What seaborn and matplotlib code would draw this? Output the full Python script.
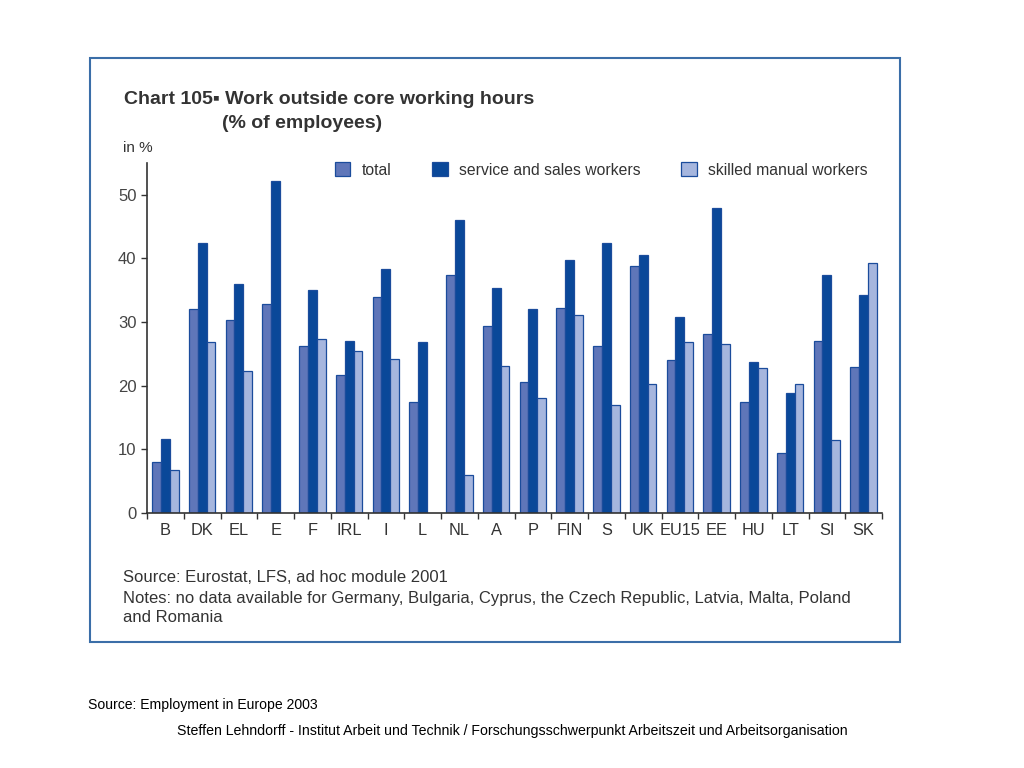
#!/usr/bin/env python3

# Chart 105: work outside core working hours, grouped bars per country

import matplotlib
matplotlib.use("Agg")
import matplotlib.pyplot as plt
import matplotlib.patches as mpatches
import seaborn as sns
import pandas as pd
import numpy as np

countries = ["B", "DK", "EL", "E", "F", "IRL", "I", "L", "NL", "A",
             "P", "FIN", "S", "UK", "EU15", "EE", "HU", "LT", "SI", "SK"]
total = [8.0, 32.0, 30.3, 32.9, 26.2, 21.7, 34.0, 17.4, 37.4, 29.4,
         20.6, 32.2, 26.2, 38.8, 24.0, 28.2, 17.4, 9.4, 27.0, 22.9]
service = [11.7, 42.5, 36.0, 52.1, 35.1, 27.1, 38.3, 26.8, 46.1, 35.3,
           32.0, 39.7, 42.5, 40.5, 30.8, 47.9, 23.7, 18.9, 37.4, 34.3]
skilled = [6.8, 26.8, 22.3, np.nan, 27.4, 25.4, 24.2, np.nan, 6.0, 23.1,
           18.0, 31.1, 16.9, 20.2, 26.8, 26.5, 22.8, 20.2, 11.4, 39.3]
groups = ["total", "service and sales workers", "skilled manual workers"]
colors = ["#5f76b9", "#0a4899", "#a6b6de"]

plt.rcParams["font.family"] = ["Liberation Sans", "DejaVu Sans"]

rows = []
for i, c in enumerate(countries):
    for g, vals in zip(groups, [total, service, skilled]):
        if not np.isnan(vals[i]):
            rows.append({"Country": c, "Group": g, "Value": vals[i]})
df = pd.DataFrame(rows)

fig = plt.figure(figsize=(10.24, 7.68), dpi=100)
ax = fig.add_axes([147 / 1024, 1 - 513 / 768, 735 / 1024, 350 / 768])

sns.barplot(data=df, x="Country", y="Value", hue="Group", order=countries,
            hue_order=groups, palette=colors, width=0.72, saturation=1,
            edgecolor="#1b4c9c", linewidth=0.9, errorbar=None, ax=ax)

ax.set_xlim(-0.5, len(countries) - 0.5)
ax.set_ylim(0, 55)
ax.set_yticks(range(0, 51, 10))
ax.set_xlabel("")
ax.set_ylabel("")
ax.tick_params(axis="x", length=0, labelsize=11.8, colors="#333333", pad=7)
ax.set_xticks(np.arange(-0.5, len(countries)), minor=True)
ax.tick_params(axis="x", which="minor", length=4, width=1, color="#333333")
ax.tick_params(axis="y", length=4, width=1, labelsize=12, colors="#444444",
               color="#333333")
for s in ["top", "right"]:
    ax.spines[s].set_visible(False)
for s in ["left", "bottom"]:
    ax.spines[s].set_color("#333333")
    ax.spines[s].set_linewidth(1.2)

handles, labels = ax.get_legend_handles_labels()
ax.legend(handles, labels, loc="center", bbox_to_anchor=(601 / 1024, 1 - 170 / 768),
          bbox_transform=fig.transFigure, ncol=3, frameon=False, fontsize=11.3,
          handlelength=1.0, handleheight=1.0, handletextpad=0.7, columnspacing=2.6,
          labelcolor="#333333")

# frame around chart
fig.patches.append(mpatches.Rectangle((90 / 1024, 1 - 642 / 768), 810 / 1024, 584 / 768,
                                      transform=fig.transFigure, fill=False,
                                      edgecolor="#3b6ea8", linewidth=1.5))

fig.text(124 / 1024, 1 - 99 / 768, "Chart 105\u25aa Work outside core working hours",
         fontsize=14, fontweight="bold", color="#333333", va="center")
fig.text(222 / 1024, 1 - 123 / 768, "(% of employees)",
         fontsize=14, fontweight="bold", color="#333333", va="center")
fig.text(123 / 1024, 1 - 148 / 768, "in %", fontsize=11, color="#333333", va="center")

fig.text(123 / 1024, 1 - 577 / 768, "Source: Eurostat, LFS, ad hoc module 2001",
         fontsize=12, color="#333333", va="center")
fig.text(123 / 1024, 1 - 598 / 768,
         "Notes: no data available for Germany, Bulgaria, Cyprus, the Czech Republic, Latvia, Malta, Poland",
         fontsize=12, color="#333333", va="center")
fig.text(123 / 1024, 1 - 618 / 768, "and Romania", fontsize=12, color="#333333", va="center")

fig.text(88 / 1024, 1 - 705 / 768, "Source: Employment in Europe 2003",
         fontsize=10.1, color="black", va="center")
fig.text(512 / 1024, 1 - 731 / 768,
         "Steffen Lehndorff - Institut Arbeit und Technik / Forschungsschwerpunkt Arbeitszeit und Arbeitsorganisation",
         fontsize=10.2, color="black", va="center", ha="center")

fig.savefig("out.png", dpi=100)
